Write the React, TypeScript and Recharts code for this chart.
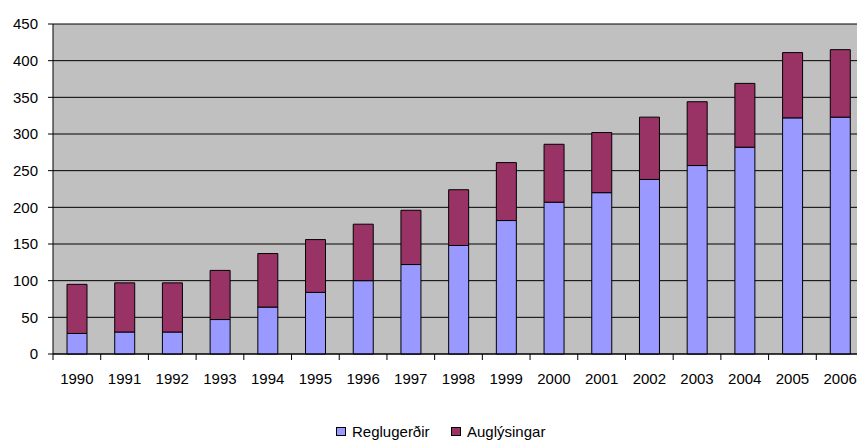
import { BarChart, Bar, XAxis, YAxis, CartesianGrid } from 'recharts';

const years = [
  '1990', '1991', '1992', '1993', '1994', '1995', '1996', '1997', '1998',
  '1999', '2000', '2001', '2002', '2003', '2004', '2005', '2006',
];
const reglugerdir = [28, 30, 30, 47, 64, 84, 100, 122, 148, 182, 207, 220, 238, 257, 282, 322, 323];
const auglysingar = [67, 67, 67, 67, 73, 72, 77, 74, 76, 79, 79, 82, 85, 87, 87, 89, 92];
const yTicks = [0, 50, 100, 150, 200, 250, 300, 350, 400, 450];

const rows = years.map((year, i) => ({
  year,
  Reglugerðir: reglugerdir[i],
  Auglýsingar: auglysingar[i],
}));

const W = 870;
const H = 440;
const margin = { top: 24, right: 6, bottom: 0, left: 0 };
const yAxisW = 53;
const band = (W - margin.left - margin.right - yAxisW) / years.length;
const font = '"Liberation Sans", Arial, sans-serif';

function YearTick(props: any) {
  const { x, y, payload } = props;
  const axisY = y - 8;
  return (
    <g>
      <line x1={x - band / 2} x2={x - band / 2} y1={axisY} y2={axisY + 6} stroke="#000" />
      <text x={x} y={axisY + 30} textAnchor="middle" fontSize={15} fill="#000" fontFamily={font}>
        {payload.value}
      </text>
    </g>
  );
}

function LegendItem({ color, label, left }: { color: string; label: string; left: number }) {
  return (
    <div
      style={{
        position: 'absolute',
        left,
        top: 423,
        height: 17,
        lineHeight: '17px',
        display: 'flex',
        alignItems: 'center',
        whiteSpace: 'nowrap',
      }}
    >
      <span
        style={{
          width: 10,
          height: 9,
          boxSizing: 'border-box',
          background: color,
          border: '1px solid #000',
          marginRight: 6,
          display: 'inline-block',
        }}
      />
      {label}
    </div>
  );
}

export default function App() {
  return (
    <div
      style={{
        position: 'absolute',
        left: 0,
        top: 0,
        width: 857,
        height: 440,
        overflow: 'hidden',
        background: '#fff',
        fontFamily: font,
        fontSize: 15,
        color: '#000',
      }}
    >
      <BarChart width={W} height={H} data={rows} margin={margin} barSize={20}>
        <CartesianGrid vertical={false} stroke="#000" fill="#C0C0C0" />
        <XAxis
          dataKey="year"
          height={86}
          axisLine={{ stroke: '#000' }}
          tickLine={false}
          tick={<YearTick />}
          interval={0}
        />
        <YAxis
          width={yAxisW}
          domain={[0, 450]}
          ticks={yTicks}
          interval={0}
          axisLine={{ stroke: '#000' }}
          tickLine={{ stroke: '#000' }}
          tickSize={5}
          tickMargin={10}
          tick={{ fill: '#000', fontSize: 15, fontFamily: font }}
        />
        <Bar dataKey="Reglugerðir" stackId="a" fill="#9999FF" stroke="#000" strokeWidth={1} isAnimationActive={false} />
        <Bar dataKey="Auglýsingar" stackId="a" fill="#993366" stroke="#000" strokeWidth={1} isAnimationActive={false} />
      </BarChart>
      <LegendItem color="#9999FF" label="Reglugerðir" left={336} />
      <LegendItem color="#993366" label="Auglýsingar" left={451} />
    </div>
  );
}
